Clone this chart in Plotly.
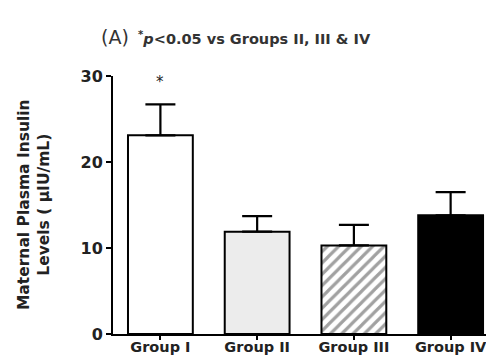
import plotly.graph_objects as go

groups = ["Group I", "Group II", "Group III", "Group IV"]
means = [23.1, 11.9, 10.3, 13.8]
sem = [3.6, 1.8, 2.4, 2.7]
zeros = [0, 0, 0, 0]
y_ticks = [0, 10, 20, 30]

fills = ["white", "#ececec", "white", "black"]
shapes = ["", "", "/", ""]

font = "DejaVu Sans, Verdana, sans-serif"
x = list(range(len(groups)))

fig = go.Figure()
fig.add_trace(go.Bar(
    x=x, y=means, width=0.67,
    marker=dict(color=fills, line=dict(color="black", width=2),
                pattern=dict(shape=shapes, fgcolor="black", bgcolor="white",
                             size=8, solidity=0.4)),
    error_y=dict(type="data", symmetric=False, array=sem, arrayminus=zeros,
                 color="black", thickness=2.2, width=15),
    showlegend=False,
))

fig.add_annotation(x=0, y=means[0] + sem[0] + 1.3, text="*", showarrow=False,
                   font=dict(family=font, size=15, color="#222"), yanchor="bottom")

fig.add_annotation(xref="paper", yref="paper", x=-0.035, y=1.1,
                   xanchor="left", yanchor="bottom", showarrow=False,
                   text="<span style='font-size:19px;font-weight:normal'>(A)</span>  <b><sup>*</sup><i>p</i><0.05 vs Groups II, III & IV</b>",
                   font=dict(family=font, size=14.5, color="#333"))

fig.update_layout(
    width=494, height=360,
    margin=dict(l=105, r=3, t=68, b=34),
    plot_bgcolor="white", paper_bgcolor="white",
    xaxis=dict(range=[-0.49, 3.5], tickvals=x,
               ticktext=["<b>" + g + "</b>" for g in groups],
               showline=True, linecolor="black", linewidth=2,
               ticks="outside", ticklen=4, tickwidth=2, tickcolor="black",
               showgrid=False, zeroline=False, ticklabelstandoff=-5,
               tickfont=dict(family=font, size=14.5, color="#222")),
    yaxis=dict(range=[0, 30], tickvals=y_ticks,
               ticktext=["<b>%d</b>" % t for t in y_ticks],
               showline=True, linecolor="black", linewidth=2,
               ticks="outside", ticklen=5, tickwidth=2, tickcolor="black",
               showgrid=False, zeroline=False,
               tickfont=dict(family=font, size=16, color="#222")),
)

fig.add_annotation(xref="paper", yref="paper", x=-0.15, y=0.5,
                   xanchor="right", yanchor="middle", textangle=-90, showarrow=False,
                   text="<b>Maternal Plasma Insulin<br>Levels ( µIU/mL)</b>",
                   font=dict(family=font, size=15.5, color="#222"))

fig.write_html("out.html")
